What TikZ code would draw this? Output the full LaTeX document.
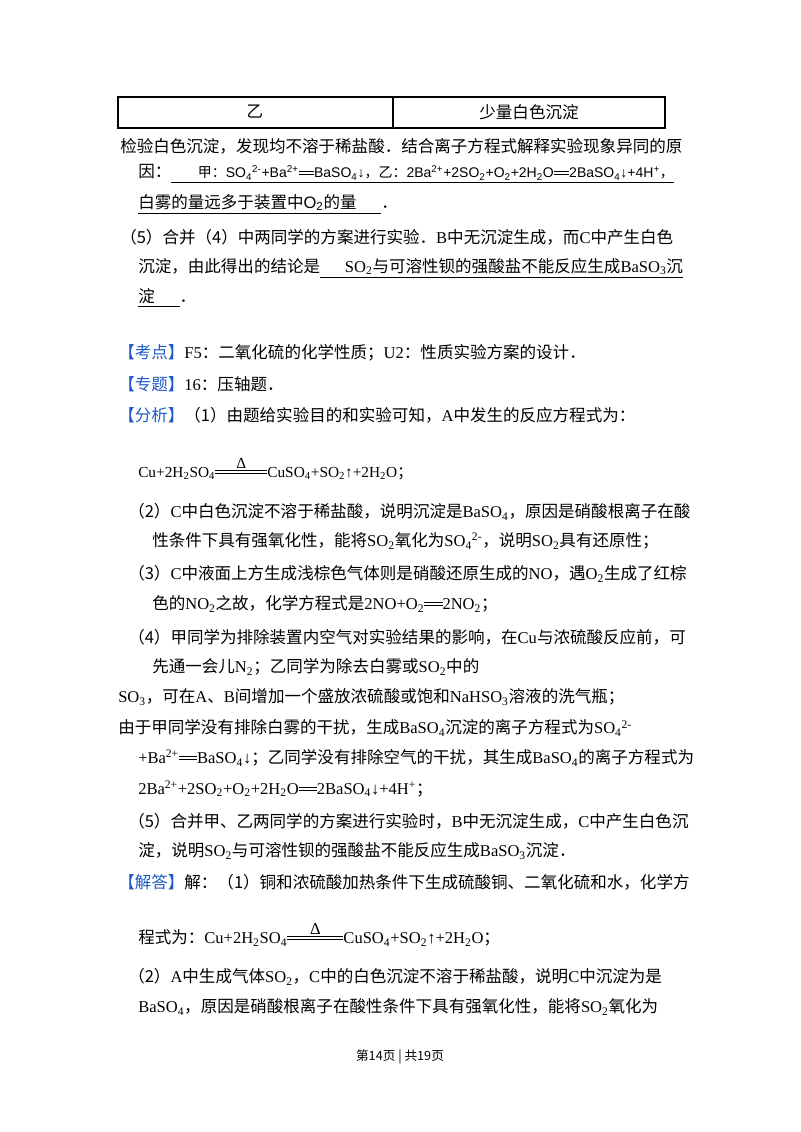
\documentclass[tikz,border=0pt]{standalone}
\usepackage{amsmath}
\usepackage{fontspec}
\setmainfont{Noto Sans CJK SC}
\newfontfamily\tm{Liberation Serif}
\newfontfamily\ls{Liberation Sans}
\definecolor{kb}{RGB}{30,90,200}
\newcommand\sub[1]{\textsubscript{#1}}
\newcommand\sups[1]{\textsuperscript{#1}}
\newcommand\deq{\mbox{\rlap{\rule[0.22em]{1.1em}{0.05em}}\rule[0.42em]{1.1em}{0.05em}}}
\newcommand\heat{$\overset{\raisebox{-0.2em}{\normalfont\tm\char"0394}}{\mbox{\rlap{\rule[0.22em]{3.4em}{0.05em}}\rule[0.42em]{3.4em}{0.05em}}}$}
\newcommand\kw[1]{\textcolor{kb}{#1}}
\begin{document}
\begin{tikzpicture}[x=0.75pt,y=-0.75pt,
  t/.style={anchor=west,inner sep=0pt,font=\fontsize{12.4}{15}\selectfont},
  c/.style={anchor=center,inner sep=0pt,font=\fontsize{12.4}{15}\selectfont}]
\useasboundingbox (0,0) rectangle (800,1132);
\fill[white] (0,0) rectangle (800,1132);
\draw[line width=0.8pt] (118,97) rectangle (665,128);
\draw[line width=0.8pt] (393,97) -- (393,128);
\node[c] (a1) at (255,112) {乙};
\node[c] (a2) at (529,112) {少量白色沉淀};
\node[t] (l1) at (120,146) {检验白色沉淀，发现均不溶于稀盐酸．结合离子方程式解释实验现象异同的原};
\node[t] (l2) at (138,174) {因：\underline{\hspace{1.6em}{\fontsize{10.5}{12}\selectfont 甲：{\ls SO\sub4\sups{2-}+Ba\sups{2+}\deq BaSO\sub4↓}，乙：{\ls 2Ba\sups{2+}+2SO\sub2+O\sub2+2H\sub2O\deq 2BaSO\sub4↓+4H\sups+}，}}};
\node[t] (l3) at (138,204) {\underline{白雾的量远多于装置中{\ls O\sub2}的量\hspace{1.5em}}．};
\node[t] (l4) at (120,237) {（5）合并（4）中两同学的方案进行实验．{\tm B}中无沉淀生成，而{\tm C}中产生白色};
\node[t] (l5) at (138,268) {沉淀，由此得出的结论是\underline{\hspace{1.5em}{\tm SO\sub2}与可溶性钡的强酸盐不能反应生成{\tm BaSO\sub3}沉}};
\node[t] (l6) at (138,298) {\underline{淀\hspace{1.5em}}．};
\node[t] (k1) at (118,353) {\kw{【考点】}{\tm F5}：二氧化硫的化学性质；{\tm U2}：性质实验方案的设计．};
\node[t] (k2) at (118,384) {\kw{【专题】}{\tm 16}：压轴题．};
\node[t] (k3) at (118,415) {\kw{【分析】}（1）由题给实验目的和实验可知，{\tm A}中发生的反应方程式为：};
\node[t] (e1) at (138,468) {\tm\fontsize{11.5}{14}\selectfont Cu+2H\sub2SO\sub4\heat CuSO\sub4+SO\sub2↑+2H\sub2O{\rmfamily；}};
\node[t] (m1) at (128,512) {（2）{\tm C}中白色沉淀不溶于稀盐酸，说明沉淀是{\tm BaSO\sub4}，原因是硝酸根离子在酸};
\node[t] (m2) at (152,541) {性条件下具有强氧化性，能将{\tm SO\sub2}氧化为{\tm SO\sub4\sups{2-}}，说明{\tm SO\sub2}具有还原性；};
\node[t] (m3) at (128,574) {（3）{\tm C}中液面上方生成浅棕色气体则是硝酸还原生成的{\tm NO}，遇{\tm O\sub2}生成了红棕};
\node[t] (m4) at (152,604) {色的{\tm NO\sub2}之故，化学方程式是{\tm 2NO+O\sub2\deq 2NO\sub2}；};
\node[t] (m5) at (128,637) {（4）甲同学为排除装置内空气对实验结果的影响，在{\tm Cu}与浓硫酸反应前，可};
\node[t] (m6) at (152,667) {先通一会儿{\tm N\sub2}；乙同学为除去白雾或{\tm SO\sub2}中的};
\node[t] (m7) at (118,697) {{\tm SO\sub3}，可在{\tm A}、{\tm B}间增加一个盛放浓硫酸或饱和{\tm NaHSO\sub3}溶液的洗气瓶；};
\node[t] (m8) at (118,728) {由于甲同学没有排除白雾的干扰，生成{\tm BaSO\sub4}沉淀的离子方程式为{\tm SO\sub4\sups{2-}}};
\node[t] (m9) at (138,758) {{\tm +Ba\sups{2+}\deq BaSO\sub4↓}；乙同学没有排除空气的干扰，其生成{\tm BaSO\sub4}的离子方程式为};
\node[t] (m10) at (138,789) {{\tm 2Ba\sups{2+}+2SO\sub2+O\sub2+2H\sub2O\deq 2BaSO\sub4↓+4H\sups+}；};
\node[t] (m11) at (128,821) {（5）合并甲、乙两同学的方案进行实验时，{\tm B}中无沉淀生成，{\tm C}中产生白色沉};
\node[t] (m12) at (138,851) {淀，说明{\tm SO\sub2}与可溶性钡的强酸盐不能反应生成{\tm BaSO\sub3}沉淀．};
\node[t] (j1) at (118,882) {\kw{【解答】}解：（1）铜和浓硫酸加热条件下生成硫酸铜、二氧化硫和水，化学方};
\node[t] (j2) at (138,934) {程式为：{\tm Cu+2H\sub2SO\sub4\heat CuSO\sub4+SO\sub2↑+2H\sub2O}；};
\node[t] (j3) at (128,977) {（2）{\tm A}中生成气体{\tm SO\sub2}，{\tm C}中的白色沉淀不溶于稀盐酸，说明{\tm C}中沉淀为是};
\node[t] (j4) at (138,1007) {{\tm BaSO\sub4}，原因是硝酸根离子在酸性条件下具有强氧化性，能将{\tm SO\sub2}氧化为};
\node[c,font=\fontsize{9.5}{11}\selectfont] (pg) at (400,1057) {第14页 | 共19页};
\end{tikzpicture}
\end{document}
